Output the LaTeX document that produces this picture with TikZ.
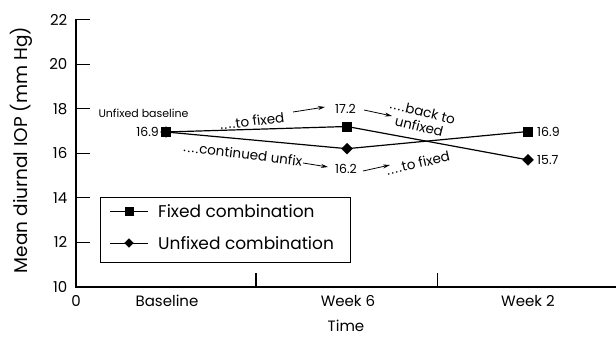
\documentclass[tikz,border=0pt]{standalone}
\usepackage{fontspec}
\setmainfont{Poppins}
\usetikzlibrary{arrows.meta,shapes.geometric}
\newcommand\fourdots{.\kern1.3pt.\kern1.3pt.\kern1.3pt.\kern0.5pt}
\begin{document}
\begin{tikzpicture}[x=1pt,y=-1pt,
  font=\fontsize{15}{17}\selectfont,
  axis/.style={line width=1.2pt},
  dataline/.style={line width=1.2pt},
  sqm/.style={draw,fill=black,rectangle,minimum size=9pt,inner sep=0pt},
  dmm/.style={draw,fill=black,diamond,minimum size=11pt,inner sep=0pt},
  lab/.style={inner sep=0pt},
  annot/.style={inner sep=0pt,font=\fontsize{13.5}{14}\selectfont},
  num/.style={inner sep=0pt,font=\fontsize{12.5}{14}\selectfont},
  arr/.style={-{Stealth[length=7pt,width=4pt]},line width=0.8pt}
]
\useasboundingbox (0,0) rectangle (616,337);
\fill[white] (0,0) rectangle (616,337);

% axes
\draw[axis] (76,19.5) -- (76,287) -- (616,287);
\foreach \v/\yy in {10/286.7,12/242.2,14/197.7,16/153.2,18/108.7,20/64.2,22/19.7} {
  \draw[axis] (76,\yy) -- (90,\yy);
  \node[lab,anchor=east] (yt\v) at (67.5,\yy) {\v};
}
\draw[axis] (256,287) -- (256,273);
\draw[axis] (437.5,287) -- (437.5,273);

\node[lab] (x0) at (76,301) {0};
\node[lab] (xb) at (167,301) {Baseline};
\node[lab] (xw6) at (348,301) {Week 6};
\node[lab] (xw2) at (528,301) {Week 2};
\node[lab] (xt) at (346,326) {Time};
\node[lab,rotate=90,font=\fontsize{18.5}{20}\selectfont] (ylab) at (21,150) {Mean diurnal IOP (mm Hg)};

% data
\node[sqm] (f0) at (166,132) {};
\node[dmm] (u0) at (166,132) {};
\node[sqm] (f1) at (347,126.5) {};
\node[dmm] (u1) at (347,148.7) {};
\node[sqm] (f2) at (528,131.5) {};
\node[dmm] (u2) at (528,159.9) {};
\draw[dataline] (f0.center) -- (f1.center) -- (u2.center);
\draw[dataline] (u0.center) -- (u1.center) -- (f2.center);

% annotations
\node[annot,font=\fontsize{11}{13}\selectfont] (ub) at (143.5,113) {Unfixed baseline};
\node[num,anchor=east] (v0) at (159,132) {16.9};
\node[annot,rotate=7] (t1) at (252,121) {\fourdots to fixed};
\coordinate (a1s) at (293,112);
\coordinate (a1e) at (325,107);
\draw[arr] (a1s) -- (a1e);
\node[num] (v1) at (345.5,109) {17.2};
\coordinate (a2s) at (364,110);
\coordinate (a2e) at (392,116);
\draw[arr] (a2s) -- (a2e);
\node[annot,rotate=-14,align=center,font=\fontsize{13.5}{15}\selectfont] (t2) at (421,119) {\fourdots back to\\unfixed};

\node[annot,rotate=-7] (t4) at (243,154) {\fourdots continued unfix};
\coordinate (a3s) at (303,163);
\coordinate (a3e) at (328,167);
\draw[arr] (a3s) -- (a3e);
\node[num] (v2) at (346,169) {16.2};
\coordinate (a4s) at (363,171);
\coordinate (a4e) at (390,165);
\draw[arr] (a4s) -- (a4e);
\node[annot,rotate=13] (t5) at (418,163) {\fourdots to fixed};

\node[num,anchor=west] (v3) at (537,131.5) {16.9};
\node[num,anchor=west] (v4) at (537,160) {15.7};

% legend
\node[draw,line width=0.8pt,minimum width=250pt,minimum height=65pt,inner sep=0pt,anchor=north west] (leg) at (100,197) {};
\coordinate (l1a) at (110,211);
\coordinate (l1b) at (148,211);
\draw[line width=1pt] (l1a) -- (l1b);
\node[sqm,minimum size=7.5pt] (lm1) at (129,211) {};
\node[lab,anchor=west,font=\fontsize{17}{19}\selectfont] (lt1) at (158,211) {Fixed combination};
\coordinate (l2a) at (110,243);
\coordinate (l2b) at (148,243);
\draw[line width=1pt] (l2a) -- (l2b);
\node[dmm,minimum size=9pt] (lm2) at (129,243) {};
\node[lab,anchor=west,font=\fontsize{17}{19}\selectfont] (lt2) at (158,243) {Unfixed combination};
\end{tikzpicture}
\end{document}
